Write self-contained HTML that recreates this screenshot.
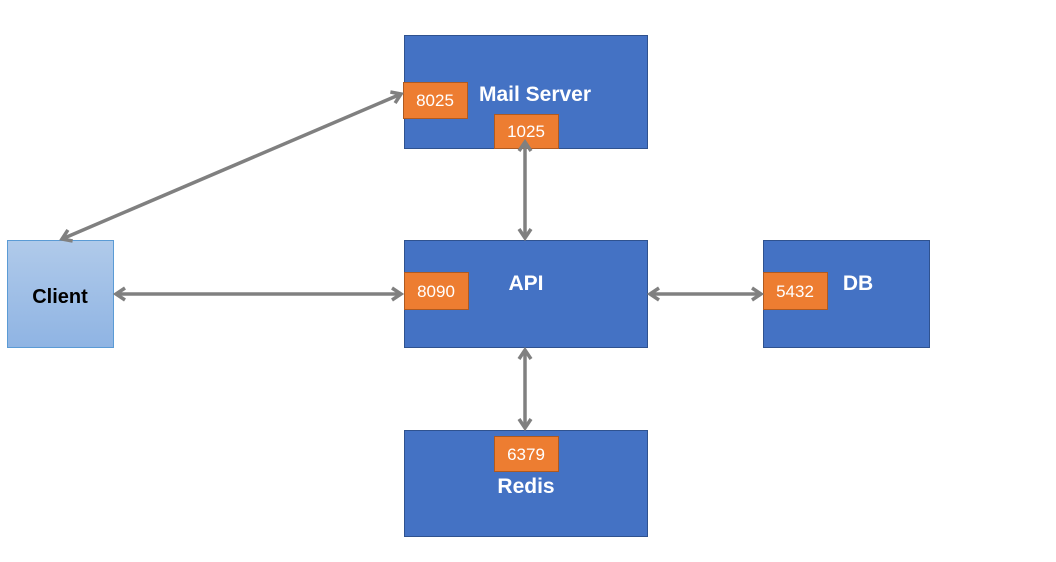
<!DOCTYPE html>
<html><head><meta charset="utf-8"><style>
html,body{margin:0;padding:0;background:#fff;width:1056px;height:562px;overflow:hidden}
svg text{font-family:"Liberation Sans",sans-serif}
</style></head><body>
<svg width="1056" height="562" xmlns="http://www.w3.org/2000/svg">
<defs>
<linearGradient id="g" x1="0" y1="0" x2="0" y2="1"><stop offset="0" stop-color="#b0caea"/><stop offset="1" stop-color="#8fb4e3"/></linearGradient>
<marker id="a" markerWidth="16" markerHeight="16" refX="12" refY="8" orient="auto-start-reverse" markerUnits="userSpaceOnUse">
<path d="M3,2 L12,8 L3,14" fill="none" stroke="#808080" stroke-width="3.5" stroke-linejoin="miter"/></marker>
</defs>
<rect x="404.5" y="35.5" width="243" height="113" fill="#4472c4" stroke="#2f528f"/>
<rect x="404.5" y="240.5" width="243" height="107" fill="#4472c4" stroke="#2f528f"/>
<rect x="763.5" y="240.5" width="166" height="107" fill="#4472c4" stroke="#2f528f"/>
<rect x="404.5" y="430.5" width="243" height="106" fill="#4472c4" stroke="#2f528f"/>
<rect x="7.5" y="240.5" width="106" height="107" fill="url(#g)" stroke="#5b9bd5"/>
<g fill="#ed7d31" stroke="#ae5a21">
<rect x="403.5" y="82.5" width="64" height="36"/>
<rect x="494.5" y="114.5" width="64" height="34"/>
<rect x="404.5" y="272.5" width="64" height="37"/>
<rect x="763.5" y="272.5" width="64" height="37"/>
<rect x="494.5" y="436.5" width="64" height="35"/>
</g>
<g stroke="#808080" stroke-width="3.5" fill="none" marker-start="url(#a)" marker-end="url(#a)">
<line x1="116" y1="294" x2="401" y2="294"/>
<line x1="62" y1="239" x2="401" y2="94"/>
<line x1="525" y1="142" x2="525" y2="238"/>
<line x1="650" y1="294" x2="761" y2="294"/>
<line x1="525" y1="350" x2="525" y2="428"/>
</g>
<g fill="#fff" font-size="17" text-anchor="middle">
<text x="435" y="106">8025</text>
<text x="526" y="137">1025</text>
<text x="436" y="297">8090</text>
<text x="795" y="297">5432</text>
<text x="526" y="460">6379</text>
</g>
<g fill="#fff" font-size="21" font-weight="bold" text-anchor="middle">
<text x="535" y="101">Mail Server</text>
<text x="526" y="290">API</text>
<text x="858" y="290">DB</text>
<text x="526" y="493">Redis</text>
</g>
<text x="60" y="303" font-size="20" font-weight="bold" text-anchor="middle" fill="#000">Client</text>
</svg>
</body></html>
